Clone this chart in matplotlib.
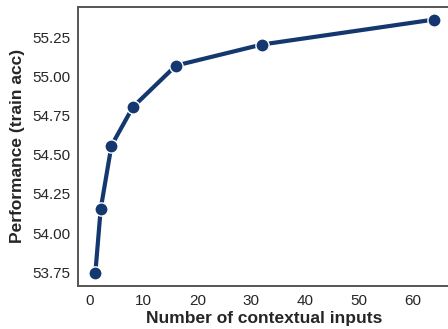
import matplotlib
matplotlib.use("Agg")
import matplotlib.pyplot as plt

num_inputs = [1, 2, 4, 8, 16, 32, 64]
train_acc = [53.745, 54.154, 54.558, 54.804, 55.068, 55.202, 55.361]
x_ticks = [0, 10, 20, 30, 40, 50, 60]
y_ticks = [53.75, 54.00, 54.25, 54.50, 54.75, 55.00, 55.25]

plt.rcParams['font.family'] = ['Liberation Sans', 'DejaVu Sans']

fig = plt.figure(figsize=(4.48, 3.29), dpi=100)
ax = fig.add_axes([0.175, 0.131, 0.831, 0.848])

ax.plot(num_inputs, train_acc, color='#14376f', linewidth=3.0, marker='o',
        markersize=9.5, markeredgecolor='white', markeredgewidth=1.0,
        solid_capstyle='round')

ax.set_xticks(x_ticks)
ax.set_yticks(y_ticks)
ax.set_yticklabels([f"{v:.2f}" for v in y_ticks])
ax.tick_params(axis='both', length=0, labelsize=11, colors='#262626', pad=6)

for s in ax.spines.values():
    s.set_color('#555555')
    s.set_linewidth(1.4)

ax.set_xlabel('Number of contextual inputs', fontsize=12.5, fontweight='bold',
              color='#262626', labelpad=2)
ax.set_ylabel('Performance (train acc)', fontsize=12.5, fontweight='bold',
              color='#262626', labelpad=5)

fig.savefig('out.png', dpi=100)
